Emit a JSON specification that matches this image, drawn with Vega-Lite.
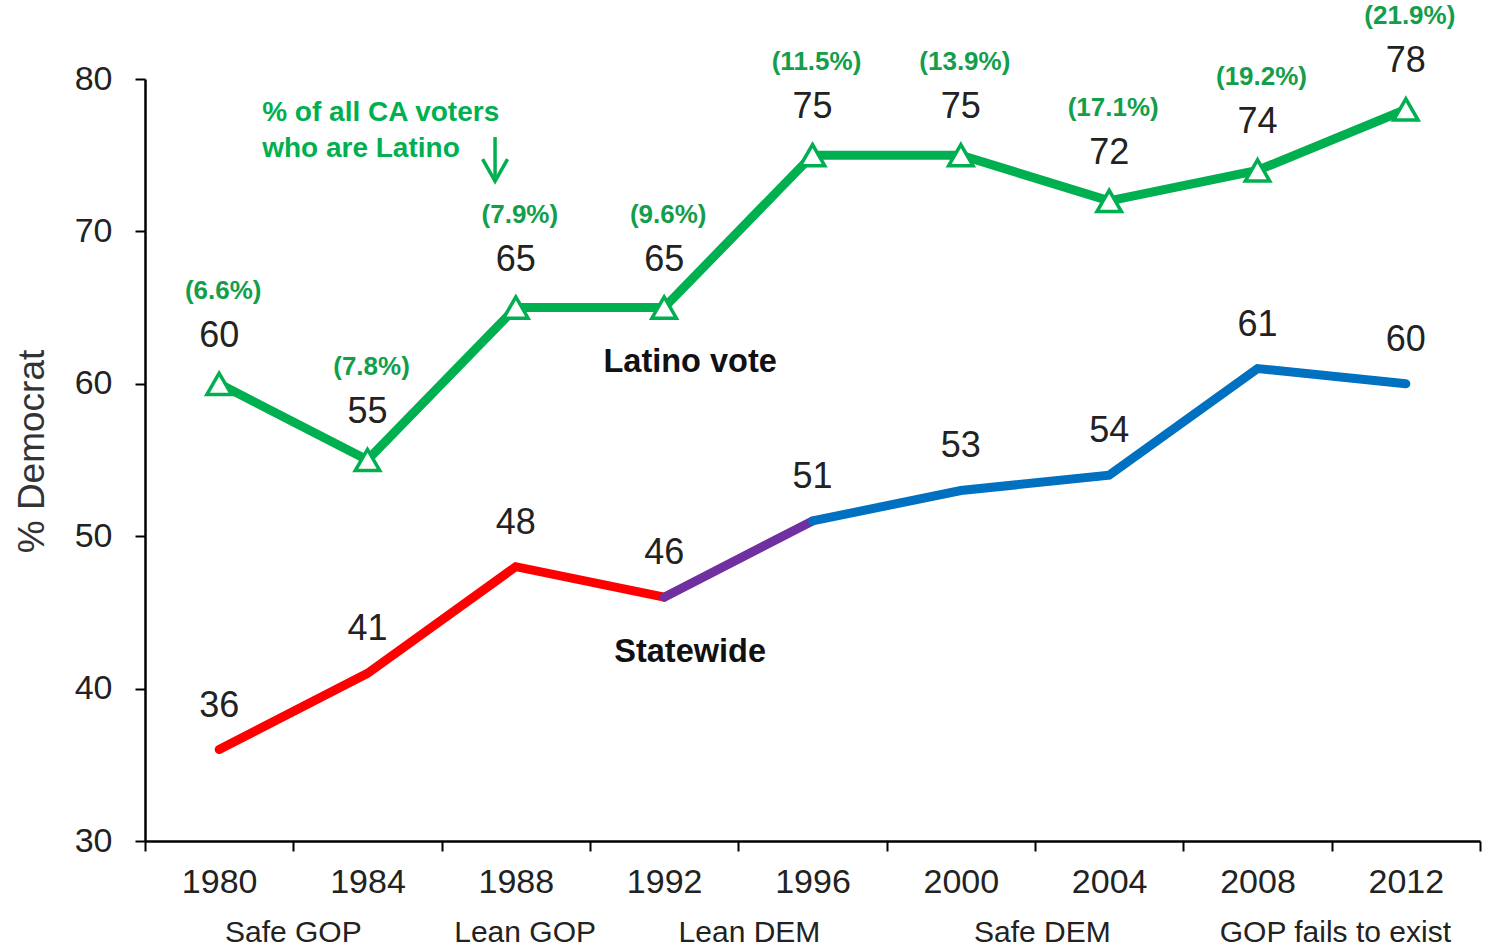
{
  "$schema": "https://vega.github.io/schema/vega-lite/v6.json",
  "width": 1335,
  "height": 762,
  "autosize": {"type": "none"},
  "padding": {"left": 145, "top": 79, "right": 13, "bottom": 109},
  "background": "white",
  "config": {"view": {"stroke": null}, "font": "Liberation Sans"},
  "datasets": {
    "latino": [
      {"year": 1980, "value": 60, "share": "(6.6%)"},
      {"year": 1984, "value": 55, "share": "(7.8%)"},
      {"year": 1988, "value": 65, "share": "(7.9%)"},
      {"year": 1992, "value": 65, "share": "(9.6%)"},
      {"year": 1996, "value": 75, "share": "(11.5%)"},
      {"year": 2000, "value": 75, "share": "(13.9%)"},
      {"year": 2004, "value": 72, "share": "(17.1%)"},
      {"year": 2008, "value": 74, "share": "(19.2%)"},
      {"year": 2012, "value": 78, "share": "(21.9%)"}
    ],
    "state": [
      {"year": 1980, "value": 36},
      {"year": 1984, "value": 41},
      {"year": 1988, "value": 48},
      {"year": 1992, "value": 46},
      {"year": 1996, "value": 51},
      {"year": 2000, "value": 53},
      {"year": 2004, "value": 54},
      {"year": 2008, "value": 61},
      {"year": 2012, "value": 60}
    ],
    "stateSegments": [
      {"segment": "a", "year": 1980, "value": 36},
      {"segment": "a", "year": 1984, "value": 41},
      {"segment": "a", "year": 1988, "value": 48},
      {"segment": "a", "year": 1992, "value": 46},
      {"segment": "b", "year": 1992, "value": 46},
      {"segment": "b", "year": 1996, "value": 51},
      {"segment": "c", "year": 1996, "value": 51},
      {"segment": "c", "year": 2000, "value": 53},
      {"segment": "c", "year": 2004, "value": 54},
      {"segment": "c", "year": 2008, "value": 61},
      {"segment": "c", "year": 2012, "value": 60}
    ],
    "seriesLabels": [
      {"year": 1992.7, "value": 61.4, "label": "Latino vote"},
      {"year": 1992.7, "value": 42.4, "label": "Statewide"}
    ],
    "note": [
      {"year": 1981.16, "value": 77.75, "label": "% of all CA voters"},
      {"year": 1981.16, "value": 75.4, "label": "who are Latino"}
    ],
    "arrow": [
      {"year": 1987.44, "top": 76.19, "bottom": 73.3}
    ],
    "ratings": [
      {"year": 1982, "label": "Safe GOP"},
      {"year": 1988.25, "label": "Lean GOP"},
      {"year": 1994.3, "label": "Lean DEM"},
      {"year": 2002.2, "label": "Safe DEM"},
      {"year": 2010.1, "label": "GOP fails to exist"}
    ]
  },
  "layer": [
    {
      "data": {"name": "latino"},
      "mark": {"type": "line", "color": "#00B050", "strokeWidth": 9},
      "encoding": {
        "x": {
          "field": "year", "type": "quantitative",
          "scale": {"domain": [1978, 2014], "nice": false, "zero": false},
          "axis": {
            "values": [1978, 1982, 1986, 1990, 1994, 1998, 2002, 2006, 2010, 2014],
            "title": null, "grid": false,
            "domainColor": "#000000", "domainWidth": 2.5,
            "tickColor": "#000000", "tickWidth": 2, "tickSize": 10,
            "labelOffset": 74.17, "labelPadding": 14,
            "labelExpr": "datum.value >= 2014 ? '' : '' + (datum.value + 2)",
            "labelFontSize": 34, "labelColor": "#222222",
            "labelFlush": false, "labelOverlap": false, "labelBound": false
          }
        },
        "y": {
          "field": "value", "type": "quantitative",
          "scale": {"domain": [30, 80], "nice": false, "zero": false},
          "axis": {
            "values": [30, 40, 50, 60, 70, 80],
            "title": "% Democrat", "grid": false,
            "domainColor": "#000000", "domainWidth": 2.5,
            "tickColor": "#000000", "tickWidth": 2, "tickSize": 10,
            "labelPadding": 23, "labelFontSize": 34, "labelColor": "#222222",
            "titleFontSize": 37, "titleFontWeight": "normal", "titleColor": "#333333",
            "titleX": -102, "titleY": 372, "titleAngle": -90,
            "titleBaseline": "alphabetic", "titleAlign": "center"
          }
        }
      }
    },
    {
      "data": {"name": "latino"},
      "mark": {"type": "point", "shape": "triangle-up", "filled": true, "fill": "#ffffff", "stroke": "#00B050", "strokeWidth": 3.5, "size": 600, "opacity": 1},
      "encoding": {
        "x": {"field": "year", "type": "quantitative"},
        "y": {"field": "value", "type": "quantitative"}
      }
    },
    {
      "data": {"name": "latino"},
      "mark": {"type": "text", "dy": -48, "fontSize": 36, "color": "#222222", "baseline": "middle"},
      "encoding": {
        "x": {"field": "year", "type": "quantitative"},
        "y": {"field": "value", "type": "quantitative"},
        "text": {"field": "value"}
      }
    },
    {
      "data": {"name": "latino"},
      "mark": {"type": "text", "dy": -93, "dx": 4, "fontSize": 26, "fontWeight": "bold", "color": "#139E4B", "baseline": "middle"},
      "encoding": {
        "x": {"field": "year", "type": "quantitative"},
        "y": {"field": "value", "type": "quantitative"},
        "text": {"field": "share"}
      }
    },
    {
      "data": {"name": "stateSegments"},
      "mark": {"type": "line", "strokeWidth": 9, "strokeCap": "round"},
      "encoding": {
        "x": {"field": "year", "type": "quantitative"},
        "y": {"field": "value", "type": "quantitative"},
        "color": {
          "field": "segment", "type": "nominal",
          "scale": {"domain": ["a", "b", "c"], "range": ["#FF0000", "#7030A0", "#0070C0"]},
          "legend": null
        }
      }
    },
    {
      "data": {"name": "state"},
      "mark": {"type": "text", "dy": -44, "fontSize": 36, "color": "#222222", "baseline": "middle"},
      "encoding": {
        "x": {"field": "year", "type": "quantitative"},
        "y": {"field": "value", "type": "quantitative"},
        "text": {"field": "value"}
      }
    },
    {
      "data": {"name": "seriesLabels"},
      "mark": {"type": "text", "fontSize": 32.5, "fontWeight": "bold", "color": "#111111", "baseline": "middle"},
      "encoding": {
        "x": {"field": "year", "type": "quantitative"},
        "y": {"field": "value", "type": "quantitative"},
        "text": {"field": "label"}
      }
    },
    {
      "data": {"name": "note"},
      "mark": {"type": "text", "fontSize": 28, "fontWeight": "bold", "color": "#00B050", "align": "left", "baseline": "middle"},
      "encoding": {
        "x": {"field": "year", "type": "quantitative"},
        "y": {"field": "value", "type": "quantitative"},
        "text": {"field": "label"}
      }
    },
    {
      "data": {"name": "arrow"},
      "mark": {"type": "rule", "color": "#00B050", "strokeWidth": 3.5},
      "encoding": {
        "x": {"field": "year", "type": "quantitative"},
        "y": {"field": "top", "type": "quantitative"},
        "y2": {"field": "bottom"}
      }
    },
    {
      "data": {"name": "arrow"},
      "mark": {"type": "point", "shape": "M-1,-1.76L0,0L1,-1.76", "filled": false, "stroke": "#00B050", "strokeWidth": 3.5, "size": 625, "opacity": 1},
      "encoding": {
        "x": {"field": "year", "type": "quantitative"},
        "y": {"field": "bottom", "type": "quantitative"}
      }
    },
    {
      "data": {"name": "ratings"},
      "mark": {"type": "text", "dy": 92, "fontSize": 30, "color": "#222222", "baseline": "middle"},
      "encoding": {
        "x": {"field": "year", "type": "quantitative"},
        "y": {"datum": 30},
        "text": {"field": "label"}
      }
    }
  ]
}
